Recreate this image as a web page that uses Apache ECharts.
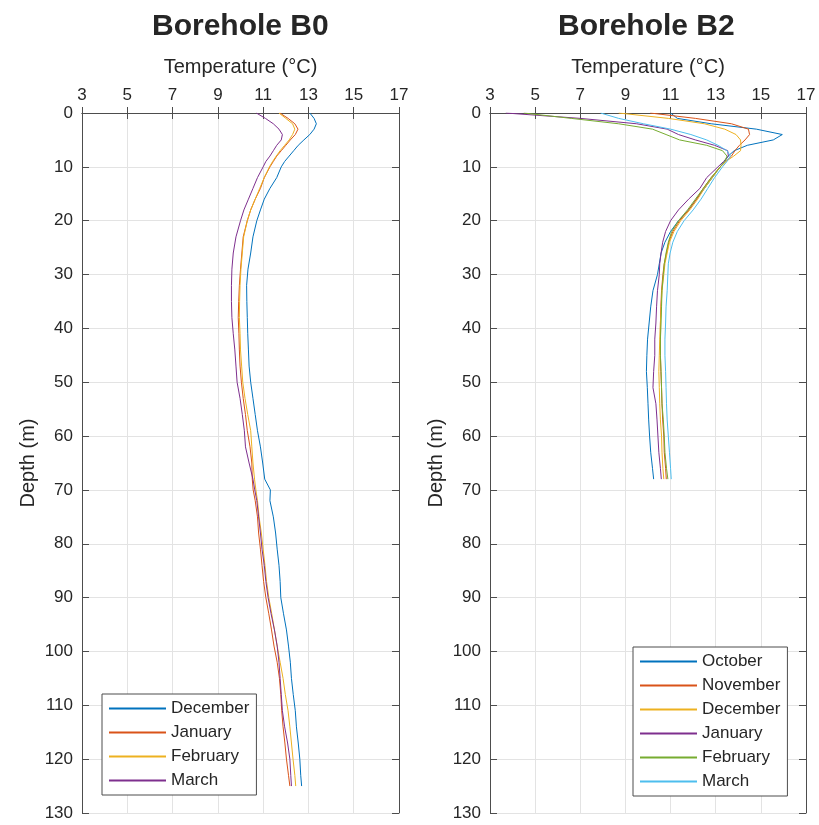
<!DOCTYPE html>
<html>
<head>
<meta charset="utf-8">
<script src="https://cdn.jsdelivr.net/npm/echarts@6/dist/echarts.min.js"></script>
<style>
html,body{margin:0;padding:0;background:#fff;}
#chart{width:819px;height:825px;}
</style>
</head>
<body>
<div id="chart"></div>
<script>
// temperature ticks (°C) and depth ticks (m)
var tempTicks = [3, 5, 7, 9, 11, 13, 15, 17];
var depthTicks = [0, 10, 20, 30, 40, 50, 60, 70, 80, 90, 100, 110, 120, 130];

// Borehole B0
var b0Months = ['December', 'January', 'February', 'March'];
var b0Depth = [0,1,2,3,4,5,6,7,8,9,10,12,14,16,18,20,23,26,29,32,35,38,41,44,47,50,53,56,59,62,65,68,70,72,75,78,81,84,87,90,93,96,99,102,105,108,111,114,117,120,123,125];
var b0Dec = [13.06,13.25,13.35,13.25,13.06,12.8,12.55,12.35,12.15,11.95,11.8,11.6,11.3,11.05,10.88,10.72,10.55,10.45,10.33,10.27,10.28,10.3,10.32,10.35,10.38,10.45,10.55,10.65,10.75,10.88,10.98,11.07,11.32,11.3,11.45,11.55,11.62,11.7,11.75,11.78,11.9,12.03,12.12,12.2,12.25,12.33,12.42,12.47,12.55,12.62,12.66,12.7];
var b0Jan = [11.74,12.1,12.4,12.54,12.42,12.2,12.0,11.8,11.6,11.45,11.3,11.05,10.88,10.65,10.45,10.3,10.12,10.06,10.0,9.95,9.92,9.9,9.93,9.95,9.98,10.04,10.12,10.22,10.3,10.42,10.5,10.52,10.56,10.65,10.75,10.8,10.88,10.95,11.02,11.12,11.25,11.37,11.48,11.62,11.72,11.78,11.82,11.88,11.96,12.03,12.12,12.18];
var b0Feb = [11.7,12.0,12.3,12.4,12.3,12.15,11.95,11.75,11.58,11.42,11.28,11.05,10.85,10.65,10.45,10.3,10.14,10.08,10.02,9.98,9.96,9.95,9.98,10.0,10.05,10.1,10.2,10.32,10.45,10.5,10.55,10.62,10.68,10.75,10.82,10.92,11.0,11.08,11.15,11.25,11.38,11.5,11.62,11.75,11.88,11.98,12.1,12.18,12.25,12.32,12.4,12.44];
var b0Mar = [10.7,11.1,11.45,11.7,11.85,11.8,11.6,11.45,11.3,11.12,11.0,10.75,10.55,10.35,10.15,10.0,9.8,9.68,9.62,9.6,9.6,9.62,9.68,9.75,9.8,9.85,9.98,10.08,10.17,10.22,10.38,10.55,10.63,10.72,10.8,10.88,10.95,11.05,11.12,11.22,11.35,11.5,11.62,11.7,11.75,11.8,11.85,11.95,12.08,12.18,12.22,12.25];

// Borehole B2
var b2Months = ['October', 'November', 'December', 'January', 'February', 'March'];
var b2Depth = [0,1,2,3,4,5,6,7,8,9,10,12,14,16,18,20,22,24,26,28,30,33,36,39,42,45,48,51,54,57,60,63,66,68];
var b2Oct = [11.0,11.3,12.8,14.8,15.95,15.55,14.4,13.82,13.55,13.4,13.2,12.85,12.5,12.15,11.8,11.35,11.0,10.75,10.58,10.5,10.42,10.22,10.12,10.05,9.98,9.95,9.93,9.97,10.0,10.03,10.07,10.12,10.2,10.25];
var b2Nov = [10.1,12.1,13.7,14.45,14.5,14.3,14.05,13.85,13.7,13.45,13.2,12.8,12.45,12.15,11.8,11.4,11.1,10.92,10.82,10.72,10.66,10.6,10.57,10.55,10.55,10.55,10.57,10.6,10.62,10.65,10.7,10.72,10.78,10.81];
var b2Dec = [8.7,10.9,12.5,13.4,13.9,14.1,14.12,14.1,13.8,13.45,13.2,12.85,12.5,12.2,11.85,11.45,11.15,10.95,10.85,10.75,10.7,10.62,10.58,10.55,10.52,10.5,10.48,10.5,10.52,10.55,10.6,10.62,10.66,10.7];
var b2Jan = [3.7,7.0,9.5,10.85,11.35,12.1,12.95,13.53,13.56,13.35,13.1,12.6,12.3,11.8,11.35,11.0,10.78,10.65,10.58,10.52,10.5,10.42,10.38,10.35,10.3,10.3,10.25,10.22,10.35,10.4,10.44,10.48,10.55,10.59];
var b2Feb = [4.5,6.6,8.7,10.2,10.8,11.4,12.6,13.3,13.5,13.4,13.2,12.8,12.45,12.1,11.75,11.35,11.05,10.9,10.8,10.72,10.68,10.62,10.6,10.58,10.55,10.55,10.58,10.6,10.62,10.68,10.72,10.75,10.82,10.88];
var b2Mar = [7.9,8.7,9.8,11.0,11.9,12.6,13.1,13.5,13.65,13.5,13.3,12.95,12.65,12.35,12.0,11.6,11.3,11.1,10.98,10.9,10.88,10.85,10.8,10.78,10.75,10.75,10.78,10.8,10.82,10.85,10.9,10.95,11.0,11.03];

var colors = ['#0072BD', '#D95319', '#EDB120', '#7E2F8E', '#77AC30', '#4DBEEE'];
var b0Colors = ['#0072BD', '#D95319', '#EDB120', '#7E2F8E'];

var textColor = '#262626';
var boxColor = '#4d4d4d';
var font = 'Liberation Sans, Arial, Helvetica, sans-serif';

function pairs(temps, depths){
	var out = [];
	for(var i=0; i<temps.length; i++){
		out.push([temps[i], depths[i]]);
	}
	return out;
}

function tempAxis(grid, top){
	return {
		type: 'value', gridIndex: grid, position: top ? 'top' : 'bottom',
		min: tempTicks[0], max: tempTicks[tempTicks.length-1], interval: 2,
		name: top ? 'Temperature (°C)' : '', nameLocation: 'middle', nameGap: 36,
		nameTextStyle: {fontSize: 20, color: textColor, fontFamily: font},
		axisLine: {show: true, lineStyle: {color: boxColor}},
		axisTick: {show: true, inside: true, length: 6, lineStyle: {color: boxColor}},
		axisLabel: {show: top, fontSize: 17, color: textColor, fontFamily: font, margin: 9},
		splitLine: {show: top, lineStyle: {color: '#e3e3e3'}}
	};
}

function depthAxis(grid, left){
	return {
		type: 'value', gridIndex: grid, position: left ? 'left' : 'right', inverse: true,
		min: depthTicks[0], max: depthTicks[depthTicks.length-1], interval: 10,
		name: left ? 'Depth (m)' : '', nameLocation: 'middle', nameGap: 44,
		nameTextStyle: {fontSize: 20, color: textColor, fontFamily: font},
		axisLine: {show: true, lineStyle: {color: boxColor}},
		axisTick: {show: true, inside: true, length: 7, lineStyle: {color: boxColor}},
		axisLabel: {show: left, fontSize: 17, color: textColor, fontFamily: font, margin: 9},
		splitLine: {show: left, lineStyle: {color: '#e3e3e3'}}
	};
}

function lineSeries(name, temps, depths, color, xi, yi){
	return {
		name: name, type: 'line', xAxisIndex: xi, yAxisIndex: yi,
		data: pairs(temps, depths), symbol: 'none', silent: true,
		lineStyle: {width: 1, color: color}, itemStyle: {color: color}
	};
}

// series names of B2 carry a prefix so both legends can hold the same month
function legend(names, prefix, left, top){
	return {
		data: names.map(function(m){ return prefix + m; }),
		formatter: function(name){ return name.replace(prefix, ''); },
		orient: 'vertical', left: left, top: top,
		itemWidth: 57, itemHeight: 14, itemGap: 7, padding: [6, 7, 6, 6],
		itemStyle: {opacity: 0},
		backgroundColor: '#fff', borderColor: boxColor, borderWidth: 1, borderRadius: 0,
		textStyle: {fontSize: 17, color: textColor, fontFamily: font}
	};
}

var b0Series = [b0Dec, b0Jan, b0Feb, b0Mar];
var b2Series = [b2Oct, b2Nov, b2Dec, b2Jan, b2Feb, b2Mar];
var series = [];
for(var i=0; i<b0Series.length; i++){
	series.push(lineSeries(b0Months[i], b0Series[i], b0Depth, b0Colors[i], 0, 0));
}
for(var i=0; i<b2Series.length; i++){
	series.push(lineSeries('B2 ' + b2Months[i], b2Series[i], b2Depth, colors[i], 2, 2));
}

var myChart = echarts.init(document.getElementById('chart'));

option = {
	animation: false,
	backgroundColor: '#fff',
	graphic: [
		{type: 'text', left: 152, top: 12, style: {text: 'Borehole B0', font: 'bold 30px ' + font, fill: textColor}},
		{type: 'text', left: 558, top: 12, style: {text: 'Borehole B2', font: 'bold 30px ' + font, fill: textColor}}
	],
	grid: [
		{left: 82, top: 113, width: 317, height: 700},
		{left: 490, top: 113, width: 316, height: 700}
	],
	xAxis: [tempAxis(0, true), tempAxis(0, false), tempAxis(1, true), tempAxis(1, false)],
	yAxis: [depthAxis(0, true), depthAxis(0, false), depthAxis(1, true), depthAxis(1, false)],
	legend: [
		legend(b0Months, '', 102, 694),
		legend(b2Months, 'B2 ', 633, 647)
	],
	series: series
};
myChart.setOption(option);
</script>
</body>
</html>
